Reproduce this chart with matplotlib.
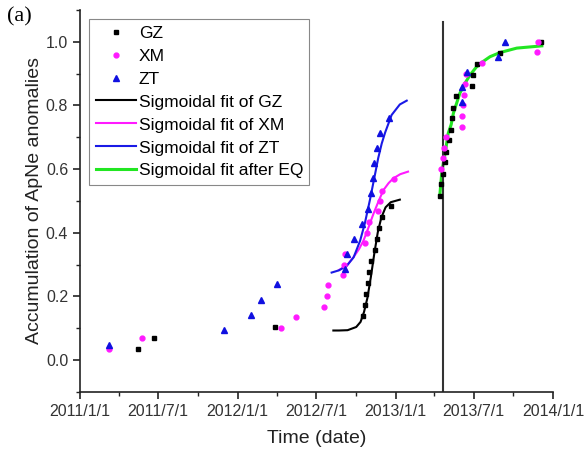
import matplotlib
matplotlib.use('Agg')
import matplotlib.pyplot as plt
import matplotlib.dates as mdates
import pandas as pd

plt.rcParams['font.family'] = ['Liberation Sans', 'DejaVu Sans']

# Scatter data
gz_dates = ['2011-05-16', '2011-06-21', '2012-03-28', '2012-10-17', '2012-10-22',
            '2012-10-24', '2012-10-29', '2012-11-01', '2012-11-05', '2012-11-14',
            '2012-11-18', '2012-11-24', '2012-12-01', '2012-12-21', '2013-04-14',
            '2013-04-16', '2013-04-22', '2013-04-25', '2013-04-29', '2013-05-06',
            '2013-05-10', '2013-05-12', '2013-05-15', '2013-05-20', '2013-06-27',
            '2013-06-29', '2013-07-08', '2013-08-30', '2013-12-04']
gz_vals = [0.035, 0.069, 0.103, 0.138, 0.172, 0.207, 0.241, 0.276, 0.310, 0.345,
           0.379, 0.414, 0.448, 0.483, 0.517, 0.552, 0.586, 0.621, 0.655, 0.690,
           0.724, 0.759, 0.793, 0.828, 0.862, 0.897, 0.931, 0.966, 1.0]

xm_dates = ['2011-03-09', '2011-05-24', '2012-04-10', '2012-05-16', '2012-07-20',
            '2012-07-26', '2012-07-29', '2012-09-01', '2012-09-04', '2012-09-06',
            '2012-10-23', '2012-10-27', '2012-11-01', '2012-11-22', '2012-11-25',
            '2012-12-01', '2012-12-28', '2013-04-16', '2013-04-22', '2013-04-24',
            '2013-04-27', '2013-06-05', '2013-06-05', '2013-06-06', '2013-06-09',
            '2013-06-11', '2013-06-13', '2013-07-21', '2013-11-24', '2013-11-26']
xm_vals = [0.034, 0.068, 0.100, 0.134, 0.168, 0.201, 0.235, 0.268, 0.300, 0.334,
           0.369, 0.400, 0.433, 0.467, 0.500, 0.531, 0.568, 0.600, 0.635, 0.667,
           0.700, 0.733, 0.767, 0.800, 0.833, 0.867, 0.900, 0.933, 0.968, 1.0]

zt_dates = ['2011-03-10', '2011-12-01', '2012-02-02', '2012-02-24', '2012-04-01',
            '2012-09-07', '2012-09-10', '2012-09-26', '2012-10-15', '2012-10-29',
            '2012-11-05', '2012-11-09', '2012-11-12', '2012-11-18', '2012-11-26',
            '2012-12-17', '2013-06-03', '2013-06-05', '2013-06-15', '2013-08-26',
            '2013-09-12']
zt_vals = [0.048, 0.095, 0.143, 0.190, 0.238, 0.286, 0.333, 0.381, 0.429, 0.476,
           0.524, 0.571, 0.619, 0.667, 0.714, 0.762, 0.810, 0.857, 0.905, 0.952, 1.0]

# Fitted curves
gz_fit_dates = ['2012-08-10', '2012-08-23', '2012-09-12', '2012-10-02', '2012-10-12',
                '2012-10-20', '2012-10-28', '2012-11-05', '2012-11-13', '2012-11-21',
                '2012-11-29', '2012-12-09', '2012-12-21', '2013-01-11']
gz_fit_vals = [0.093, 0.093, 0.094, 0.104, 0.120, 0.151, 0.196, 0.262, 0.336, 0.402,
               0.447, 0.480, 0.496, 0.504]

xm_fit_dates = ['2012-08-23', '2012-09-01', '2012-09-12', '2012-09-26', '2012-10-09',
                '2012-10-19', '2012-10-30', '2012-11-11', '2012-11-23', '2012-12-04',
                '2012-12-16', '2012-12-27', '2013-01-12', '2013-01-30']
xm_fit_vals = [0.283, 0.290, 0.300, 0.324, 0.350, 0.376, 0.415, 0.460, 0.500, 0.534,
               0.556, 0.571, 0.584, 0.592]

zt_fit_dates = ['2012-08-06', '2012-08-23', '2012-09-10', '2012-09-26', '2012-10-11',
                '2012-10-22', '2012-11-03', '2012-11-14', '2012-11-22', '2012-11-30',
                '2012-12-08', '2012-12-23', '2013-01-11', '2013-01-27']
zt_fit_vals = [0.275, 0.282, 0.296, 0.323, 0.375, 0.430, 0.505, 0.580, 0.635, 0.680,
               0.715, 0.770, 0.803, 0.815]

eq_fit_dates = ['2013-04-14', '2013-04-18', '2013-04-22', '2013-04-26', '2013-05-03',
                '2013-05-10', '2013-05-15', '2013-05-30', '2013-06-11', '2013-06-23',
                '2013-07-07', '2013-07-23', '2013-08-08', '2013-08-31', '2013-10-09',
                '2013-12-06']
eq_fit_vals = [0.523, 0.586, 0.620, 0.649, 0.712, 0.740, 0.775, 0.838, 0.870, 0.896,
               0.920, 0.938, 0.953, 0.966, 0.980, 0.987]

eq_date = '2013-04-20'

fig = plt.figure(figsize=(5.84, 4.5), dpi=100)
ax = fig.add_axes([0.137, 0.129, 0.810, 0.849])

ax.plot(pd.to_datetime(gz_dates), gz_vals, 's', color='black', ms=3, ls='none', label='GZ', zorder=3)
ax.plot(pd.to_datetime(xm_dates), xm_vals, 'o', color='#ff1aff', ms=3.5, ls='none', label='XM', zorder=3)
ax.plot(pd.to_datetime(zt_dates), zt_vals, '^', color='#1010e0', ms=4.5, ls='none', label='ZT', zorder=3)

ax.plot(pd.to_datetime(gz_fit_dates), gz_fit_vals, '-', color='black', lw=1.5, label='Sigmoidal fit of GZ')
ax.plot(pd.to_datetime(xm_fit_dates), xm_fit_vals, '-', color='#ff1aff', lw=1.5, label='Sigmoidal fit of XM')
ax.plot(pd.to_datetime(zt_fit_dates), zt_fit_vals, '-', color='#1a1ae6', lw=1.5, label='Sigmoidal fit of ZT')
ax.plot(pd.to_datetime(eq_fit_dates), eq_fit_vals, '-', color='#22e622', lw=2.2, label='Sigmoidal fit after EQ')

eq = pd.Timestamp(eq_date)
ax.plot([eq, eq], [-0.1, 1.063], color='#333333', lw=1.5, zorder=2)

ax.set_xlim(pd.Timestamp('2011-01-01'), pd.Timestamp('2014-01-01'))
ax.set_ylim(-0.1, 1.1)
ax.set_yticks([0.0, 0.2, 0.4, 0.6, 0.8, 1.0])
ax.set_yticks([-0.1, 0.1, 0.3, 0.5, 0.7, 0.9, 1.1], minor=True)
ax.yaxis.set_major_formatter(plt.FuncFormatter(lambda v, p: f'{v:.1f}'))

ax.xaxis.set_major_locator(mdates.MonthLocator(bymonth=[1, 7], bymonthday=1))
ax.xaxis.set_minor_locator(mdates.MonthLocator(bymonth=[4, 10], bymonthday=1))


def fmt_date(x, pos):
    d = mdates.num2date(x)
    return f'{d.year}/{d.month}/{d.day}'


ax.xaxis.set_major_formatter(plt.FuncFormatter(fmt_date))

for side in ['top', 'right']:
    ax.spines[side].set_visible(False)
for side in ['left', 'bottom']:
    ax.spines[side].set_linewidth(1.2)
    ax.spines[side].set_color('#222222')

ax.tick_params(axis='both', which='major', direction='out', length=5, width=1.2,
               labelsize=11.5, colors='#222222', labelcolor='#333333')
ax.tick_params(axis='both', which='minor', direction='out', length=3, width=1.0, colors='#222222')

ax.set_xlabel('Time (date)', fontsize=14, color='#222222', labelpad=8)
ax.set_ylabel('Accumulation of ApNe anomalies', fontsize=14, color='#222222', labelpad=2)

leg = ax.legend(loc='upper left', bbox_to_anchor=(0.02, 0.975), borderaxespad=0,
                fontsize=12.5, handlelength=2.35, handletextpad=0.15, labelspacing=0.45,
                fancybox=False, framealpha=1, edgecolor='#888888', borderpad=0.35)
leg.get_frame().set_linewidth(0.8)

fig.text(0.012, 0.962, '(a)', fontsize=16, family='Liberation Serif', va='center', ha='left')

plt.savefig('out.png', dpi=100)
